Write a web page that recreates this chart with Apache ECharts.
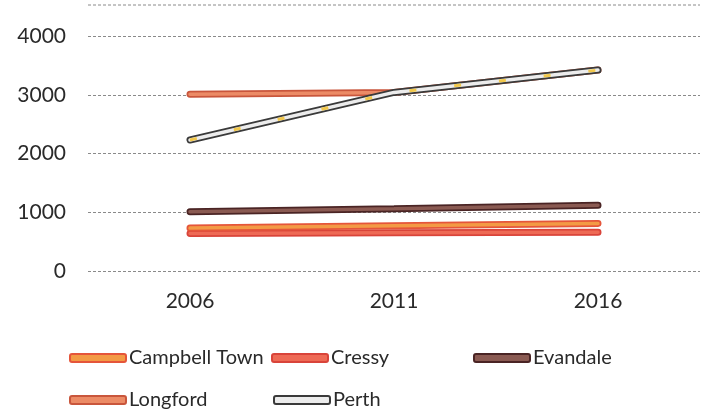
<!DOCTYPE html>
<html>
<head>
<meta charset="utf-8">
<script src="https://cdn.jsdelivr.net/npm/echarts@6/dist/echarts.min.js"></script>
<style>
  html, body { margin: 0; padding: 0; background: #fff; }
  #chart { width: 716px; height: 412px; }
</style>
</head>
<body>
<div id="chart"></div>
<script>
// Census years and populations per town
const years = ['2006', '2011', '2016'];
const campbellTown = [730, 770, 810];
const cressy = [640, 650, 660];
const evandale = [1010, 1060, 1120];
const longford = [3010, 3040, 3420];
const perth = [2230, 3040, 3420];
const yTicks = [0, 1000, 2000, 3000, 4000];

const FONT = 'Lato, "Open Sans", sans-serif';

// Each town is drawn as a wide edge line with a narrower fill line on top
const towns = [
  { name: 'Cressy', data: cressy, edge: '#d9443a', fill: '#ee6a55', z: 2 },
  { name: 'Campbell Town', data: campbellTown, edge: '#e5553a', fill: '#f39a45', z: 3 },
  { name: 'Evandale', data: evandale, edge: '#4a2424', fill: '#8a5a52', z: 4 },
  { name: 'Longford', data: longford, edge: '#c9563c', fill: '#ec8b66', z: 5 },
  { name: 'Perth', data: perth, edge: '#3a3a3a', fill: '#ececec', z: 6 }
];

const series = [];
towns.forEach(t => {
  series.push({
    name: t.name + ' edge', type: 'line', data: t.data, z: t.z * 3,
    symbol: 'none', silent: true, animation: false,
    lineStyle: { color: t.edge, width: 7, cap: 'round' }
  });
  series.push({
    name: t.name, type: 'line', data: t.data, z: t.z * 3 + 1,
    symbol: 'none', animation: false,
    lineStyle: { color: t.fill, width: 3.5, cap: 'round' },
    itemStyle: { color: t.fill, borderColor: t.edge, borderWidth: 1.5 }
  });
});
// yellow flecks along the Perth line
series.push({
  name: 'Perth flecks', type: 'line', data: perth, z: 20,
  symbol: 'none', silent: true, animation: false,
  lineStyle: { color: '#f2c84b', width: 3, type: [7, 38] }
});

function legendItem(name, left, top) {
  const t = towns.find(x => x.name === name);
  return {
    data: [name], left: left, top: top, icon: 'roundRect',
    itemWidth: 56, itemHeight: 8, itemGap: 0,
    textStyle: { fontFamily: FONT, fontSize: 20, color: '#2a2a2a', padding: [0, 0, 0, -2] },
    itemStyle: { color: t.fill, borderColor: t.edge, borderWidth: 2 },
    selectedMode: false
  };
}

const chart = echarts.init(document.getElementById('chart'), null, { renderer: 'canvas' });
chart.setOption({
  backgroundColor: '#fff',
  animation: false,
  grid: { left: 88, right: 16, top: 36, bottom: 141 },
  xAxis: {
    type: 'category', data: years, boundaryGap: true,
    axisLine: { show: false }, axisTick: { show: false },
    axisLabel: { fontFamily: FONT, fontSize: 21, color: '#2a2a2a', margin: 20 }
  },
  yAxis: {
    type: 'value', min: yTicks[0], max: yTicks[yTicks.length - 1], interval: 1000,
    axisLine: { show: false }, axisTick: { show: false },
    axisLabel: { fontFamily: FONT, fontSize: 21, color: '#2a2a2a', margin: 22, formatter: v => String(v) },
    splitLine: { lineStyle: { color: '#8a8a8a', width: 1, type: [3, 2] } }
  },
  graphic: [{
    type: 'line', shape: { x1: 88, y1: 5, x2: 700, y2: 5 },
    style: { stroke: '#8a8a8a', lineWidth: 1, lineDash: [3, 2] }
  }],
  legend: [
    legendItem('Campbell Town', 64, 343),
    legendItem('Cressy', 266, 343),
    legendItem('Evandale', 468, 343),
    legendItem('Longford', 64, 385),
    legendItem('Perth', 268, 385)
  ],
  series: series
});
</script>
</body>
</html>
